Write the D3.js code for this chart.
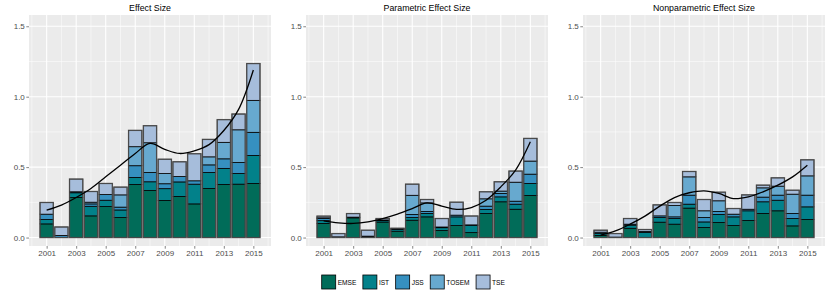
<!DOCTYPE html>
<html>
<head>
<meta charset="utf-8">
<script src="https://cdn.jsdelivr.net/npm/d3@7"></script>
<style>
  body { margin: 0; background: #fff; }
  text { font-family: "Liberation Sans", Arial, sans-serif; }
</style>
</head>
<body>
<script>
// values
const years = [2001, 2002, 2003, 2004, 2005, 2006, 2007, 2008, 2009, 2010, 2011, 2012, 2013, 2014, 2015];
const journals = ["EMSE", "IST", "JSS", "TOSEM", "TSE"];
const titles = ["Effect Size", "Parametric Effect Size", "Nonparametric Effect Size"];
const yTicks = [0, 0.5, 1, 1.5];
const yMinor = [0.25, 0.75, 1.25];
const xTicks = [2001, 2003, 2005, 2007, 2009, 2011, 2013, 2015];
const xMinor = [2000, 2002, 2004, 2006, 2008, 2010, 2012, 2014, 2016];

// Effect Size
const esEMSE  = [0.097, 0, 0.284, 0.154, 0.220, 0.142, 0.377, 0.334, 0.263, 0.292, 0.239, 0.348, 0.377, 0.379, 0.384];
const esIST   = [0.031, 0, 0.034, 0.068, 0.045, 0.054, 0.050, 0.062, 0.084, 0.103, 0.140, 0.114, 0.114, 0.076, 0.199];
const esJSS   = [0.038, 0.015, 0.007, 0.017, 0.040, 0.020, 0.083, 0.066, 0.035, 0.038, 0.024, 0.054, 0.068, 0.078, 0.164];
const esTOSEM = [0, 0, 0, 0.012, 0, 0.087, 0.135, 0.211, 0.072, 0, 0, 0.057, 0.117, 0.232, 0.227];
const esTSE   = [0.083, 0.060, 0.090, 0.076, 0.079, 0.055, 0.116, 0.121, 0.102, 0.105, 0.192, 0.124, 0.161, 0.112, 0.261];
const esSmooth = [0.194, 0.230, 0.284, 0.348, 0.431, 0.514, 0.597, 0.668, 0.626, 0.597, 0.616, 0.660, 0.760, 0.910, 1.190];

// Parametric Effect Size
const peEMSE  = [0.100, 0, 0.140, 0.005, 0.110, 0.045, 0.123, 0.147, 0.050, 0.085, 0.035, 0.171, 0.254, 0.201, 0.299];
const peIST   = [0.020, 0, 0.005, 0, 0.010, 0.012, 0.019, 0.024, 0.020, 0.062, 0.050, 0.029, 0.035, 0.036, 0.085];
const peJSS   = [0.015, 0.005, 0, 0.005, 0.005, 0.005, 0.022, 0.014, 0.005, 0.012, 0.005, 0.023, 0.024, 0.021, 0.066];
const peTOSEM = [0.005, 0, 0, 0, 0, 0, 0.136, 0.061, 0, 0, 0, 0.052, 0.017, 0.135, 0.093];
const peTSE   = [0.012, 0.023, 0.025, 0.042, 0.010, 0.004, 0.079, 0.024, 0.060, 0.092, 0.063, 0.050, 0.066, 0.079, 0.161];
const peSmooth = [0.118, 0.104, 0.100, 0.111, 0.135, 0.166, 0.206, 0.246, 0.223, 0.200, 0.213, 0.265, 0.360, 0.479, 0.680];

// Nonparametric Effect Size
const npEMSE  = [0.015, 0.003, 0.066, 0, 0.109, 0.095, 0.209, 0.071, 0.107, 0.085, 0.121, 0.171, 0.190, 0.083, 0.128];
const npIST   = [0.013, 0, 0.022, 0.036, 0.033, 0.040, 0.028, 0.040, 0.057, 0.062, 0.069, 0.083, 0.075, 0.052, 0.090];
const npJSS   = [0.010, 0, 0.007, 0.008, 0.012, 0.012, 0.064, 0.031, 0.021, 0.019, 0.011, 0.033, 0.036, 0.036, 0.083];
const npTOSEM = [0, 0, 0, 0, 0, 0.080, 0.130, 0.048, 0.076, 0, 0, 0.066, 0.064, 0.137, 0.137];
const npTSE   = [0.014, 0.025, 0.040, 0.013, 0.078, 0.022, 0.038, 0.080, 0.061, 0.040, 0.102, 0.019, 0.059, 0.028, 0.114];
const npSmooth = [0.017, 0.047, 0.095, 0.152, 0.223, 0.284, 0.318, 0.332, 0.313, 0.277, 0.289, 0.325, 0.372, 0.431, 0.514];

const panels = [
    {title: titles[0], series: [esEMSE, esIST, esJSS, esTOSEM, esTSE], smooth: esSmooth},
    {title: titles[1], series: [peEMSE, peIST, peJSS, peTOSEM, peTSE], smooth: peSmooth},
    {title: titles[2], series: [npEMSE, npIST, npJSS, npTOSEM, npTSE], smooth: npSmooth}
];

const colors = ["#016c59", "#02818a", "#3690c0", "#67a9cf", "#a6bddb"];
const color = d3.scaleOrdinal().domain(journals).range(colors);

const w = 830;
const h = 293;
const panelLeft = [29, 306, 583];
const panelW = 242;
const plotTop = 15;
const plotBottom = 246;

let svg = d3.select("body")
            .append("svg")
            .attr("width", w)
            .attr("height", h);

// shared scales, each panel gets its own translate
let x = d3.scaleLinear()
          .domain([1999.805, 2016.195])
          .range([0, panelW]);
let y = d3.scaleLinear()
          .domain([-0.06, 1.58])
          .range([plotBottom, plotTop]);
let barW = x(2000.9) - x(2000);

let stack = d3.stack().keys(journals);
let line = d3.line()
             .x((d) => x(d.year))
             .y((d) => y(d.value))
             .curve(d3.curveCatmullRom);

panels.forEach((p, pi) => {
    let g = svg.append("g")
               .attr("transform", "translate(" + panelLeft[pi] + ",0)");

    g.append("rect")
     .attr("x", 0)
     .attr("y", plotTop)
     .attr("width", panelW)
     .attr("height", plotBottom - plotTop)
     .attr("fill", "#ebebeb");

    // grid
    g.selectAll(".yminor").data(yMinor).enter().append("line")
     .attr("x1", 0).attr("x2", panelW)
     .attr("y1", (d) => y(d)).attr("y2", (d) => y(d))
     .attr("stroke", "#fff").attr("stroke-width", 0.5);
    g.selectAll(".xminor").data(xMinor).enter().append("line")
     .attr("y1", plotTop).attr("y2", plotBottom)
     .attr("x1", (d) => x(d)).attr("x2", (d) => x(d))
     .attr("stroke", "#fff").attr("stroke-width", 0.5);
    g.selectAll(".ymajor").data(yTicks).enter().append("line")
     .attr("x1", 0).attr("x2", panelW)
     .attr("y1", (d) => y(d)).attr("y2", (d) => y(d))
     .attr("stroke", "#fff").attr("stroke-width", 1.1);
    g.selectAll(".xmajor").data(xTicks).enter().append("line")
     .attr("y1", plotTop).attr("y2", plotBottom)
     .attr("x1", (d) => x(d)).attr("x2", (d) => x(d))
     .attr("stroke", "#fff").attr("stroke-width", 1.1);

    // stacked bars
    let rows = years.map((yr, i) => {
        let r = {year: yr};
        journals.forEach((j, k) => r[j] = p.series[k][i]);
        return r;
    });
    let layers = stack(rows);

    g.selectAll(".layer")
     .data(layers)
     .enter()
     .append("g")
     .attr("fill", (d) => color(d.key))
     .selectAll("rect")
     .data((d) => d.filter((s) => s[1] - s[0] > 0))
     .enter()
     .append("rect")
     .attr("x", (d) => x(d.data.year) - barW / 2)
     .attr("width", barW)
     .attr("y", (d) => y(d[1]))
     .attr("height", (d) => y(d[0]) - y(d[1]))
     .attr("stroke", "#000")
     .attr("stroke-width", 0.8);

    // grey outline round each whole bar
    g.selectAll(".outline")
     .data(layers[layers.length - 1])
     .enter()
     .append("rect")
     .attr("x", (d) => x(d.data.year) - barW / 2)
     .attr("width", barW)
     .attr("y", (d) => y(d[1]))
     .attr("height", (d) => y(0) - y(d[1]))
     .attr("fill", "none")
     .attr("stroke", "#555")
     .attr("stroke-opacity", 0.75)
     .attr("stroke-width", 1.4);

    // smoothed trend
    g.append("path")
     .datum(years.map((yr, i) => ({year: yr, value: p.smooth[i]})))
     .attr("d", line)
     .attr("fill", "none")
     .attr("stroke", "#000")
     .attr("stroke-width", 1.3);

    // axes
    let ya = g.append("g")
              .call(d3.axisLeft(y).tickValues(yTicks).tickSize(2.7).tickPadding(1.5)
                      .tickFormat(d3.format(".1f")));
    let xa = g.append("g")
              .attr("transform", "translate(0," + plotBottom + ")")
              .call(d3.axisBottom(x).tickValues(xTicks).tickSize(2.7).tickPadding(2)
                      .tickFormat(d3.format("d")));
    [ya, xa].forEach((a) => {
        a.select(".domain").remove();
        a.selectAll("line").attr("stroke", "#333").attr("stroke-width", 0.6);
        a.selectAll("text")
         .attr("fill", "#4d4d4d")
         .style("font-family", "'Liberation Sans', Arial, sans-serif")
         .style("font-size", "8px");
    });

    g.append("text")
     .attr("x", panelW / 2)
     .attr("y", 10.5)
     .attr("text-anchor", "middle")
     .attr("fill", "#000")
     .style("font-size", "8.8px")
     .text(p.title);
});

// legend
let legend = svg.append("g").attr("transform", "translate(321.7,275)");
let lx = 0;
journals.forEach((j) => {
    let item = legend.append("g").attr("transform", "translate(" + lx + ",0)");
    item.append("rect")
        .attr("width", 14)
        .attr("height", 14)
        .attr("fill", color(j))
        .attr("stroke", "#000")
        .attr("stroke-width", 0.8);
    let t = item.append("text")
        .attr("x", 16)
        .attr("y", 9.5)
        .attr("fill", "#000")
        .style("font-size", "6.6px")
        .text(j);
    lx += 16 + t.node().getComputedTextLength() + 6.5;
});
</script>
</body>
</html>
